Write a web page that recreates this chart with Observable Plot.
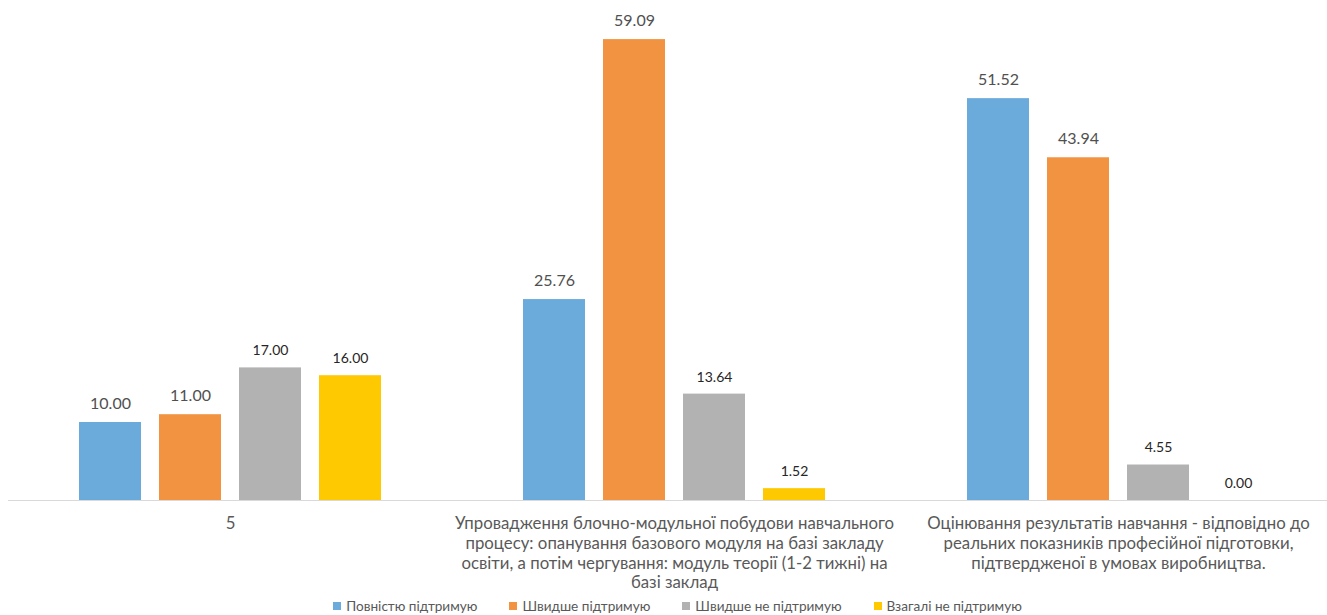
<!DOCTYPE html>
<html><head><meta charset="utf-8">
<script src="https://cdn.jsdelivr.net/npm/d3@7"></script>
<script src="https://cdn.jsdelivr.net/npm/@observablehq/plot@0.6"></script>
<style>
body{margin:0;background:#fff;font-family:Lato, "Noto Sans", sans-serif;overflow:hidden;}
#legend{display:flex;justify-content:center;align-items:center;height:19px;font-size:13.6px;color:#595959;padding-left:60px;}
#legend .item{display:flex;align-items:center;margin-right:32px;white-space:nowrap;}
#legend .sw{width:8px;height:8px;margin-right:5px;}
</style></head><body><div id="chart"></div><div id="legend"></div>
<script>
const categories = [
  "5",
  "Упровадження блочно-модульної побудови навчального\nпроцесу: опанування базового модуля на базі закладу\nосвіти, а потім чергування: модуль теорії (1-2 тижні) на\nбазі заклад",
  "Оцінювання результатів навчання - відповідно до\nреальних показників професійної підготовки,\nпідтвердженої в умовах виробництва."
];
const series = ["Повністю підтримую", "Швидше підтримую", "Швидше не підтримую", "Взагалі не підтримую"];
const fullySupport = [10.00, 25.76, 51.52];
const ratherSupport = [11.00, 59.09, 43.94];
const ratherNotSupport = [17.00, 13.64, 4.55];
const notSupportAtAll = [16.00, 1.52, 0.00];
const colors = ["#6aabdc", "#f29341", "#b2b2b2", "#ffc902"];

const seriesValues = [fullySupport, ratherSupport, ratherNotSupport, notSupportAtAll];
const data = categories.flatMap((c, i) => series.map((s, j) => ({category: c, series: s, si: j, value: seriesValues[j][i]})));

const chart = Plot.plot({
  width: 1327, height: 596,
  marginLeft: 8, marginRight: -13, marginTop: 32, marginBottom: 96,
  style: {fontFamily: "Lato, 'Noto Sans', sans-serif", overflow: "visible"},
  fx: {domain: categories, padding: 0, axis: null},
  x: {domain: series, paddingInner: 0.22, paddingOuter: 0.86, axis: null},
  y: {domain: [0, 60], axis: null},
  color: {domain: series, range: colors},
  marks: [
    Plot.barY(data, {fx: "category", x: "series", y: "value", fill: "series"}),
    Plot.ruleY([0], {stroke: "#d9d9d9", strokeWidth: 1}),
    Plot.text(data.filter(d => d.si < 2), {fx: "category", x: "series", y: "value", text: d => d.value.toFixed(2), dy: -19, fontSize: 16, fill: "#505050"}),
    Plot.text(data.filter(d => d.si >= 2), {fx: "category", x: "series", y: "value", text: d => d.value.toFixed(2), dy: -17, fontSize: 14, fill: "#262626"}),
    Plot.text(categories, {fx: d => d, text: d => d, frameAnchor: "bottom", lineAnchor: "top", dy: 15, fontSize: 16.8, lineHeight: 1.17, fill: "#595959"})
  ]
});
document.getElementById("chart").appendChild(chart);

const legend = document.getElementById("legend");
series.forEach((s, i) => {
  const item = document.createElement("div");
  item.className = "item";
  const sw = document.createElement("span");
  sw.className = "sw";
  sw.style.background = colors[i];
  item.appendChild(sw);
  item.appendChild(document.createTextNode(s));
  legend.appendChild(item);
});
</script>
</body></html>
